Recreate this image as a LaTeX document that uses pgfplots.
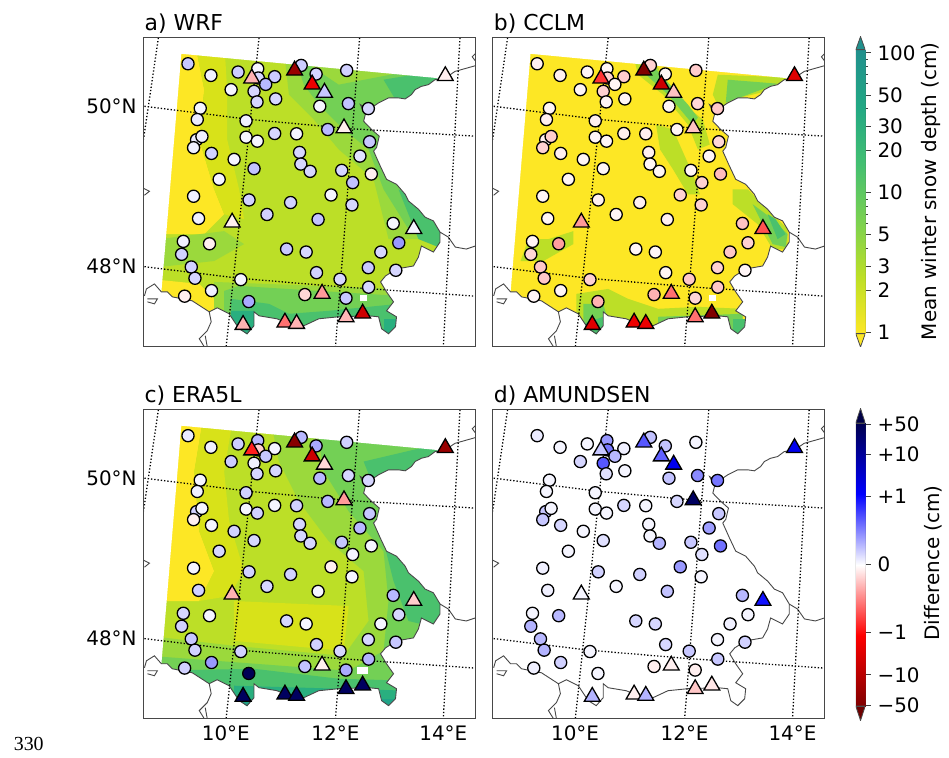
\documentclass[border=0pt]{standalone}
\usepackage{fontspec}
\setmainfont{DejaVu Sans}[Scale=2]
\newfontfamily\titlefont{DejaVu Sans}[Scale=2.2]
\newfontfamily\serifnum{Liberation Serif}[Scale=2]
\usepackage{pgfplots}
\usepackage{pgfplotstable}
\pgfplotsset{compat=1.18}
\pgfplotsset{
  colormap={snow}{rgb255=(253,231,37) rgb255=(189,223,38) rgb255=(122,209,81) rgb255=(67,191,113) rgb255=(34,168,132) rgb255=(33,144,141)},
  colormap={diff}{rgb255=(128,0,0) rgb255=(255,0,0) rgb255=(255,255,255) rgb255=(0,0,255) rgb255=(0,0,77)},
}
\definecolor{sYel}{HTML}{FDE725}
\definecolor{sYg}{HTML}{D8E219}
\definecolor{sLime}{HTML}{BCDF27}
\definecolor{sLg}{HTML}{9BD93C}
\definecolor{sGrn}{HTML}{73D055}
\definecolor{sGm}{HTML}{4AC16D}
\definecolor{sTeal}{HTML}{29AF7F}
\definecolor{sTd}{HTML}{20A387}
\pgfplotstableread{
x y a b c d
188.7 64.0 11 -3 4 4
211.7 75.7 3 -3 3 2
239.0 72.3 10 -2 10 2
258.7 69.0 2 -2 14 20
259.3 78.3 8 -9 -10 27
275.7 77.0 10 -10 2 3
266.7 84.7 14 -2 11 14
232.0 90.0 2 -2 10 8
255.0 91.7 8 -9 3 33
258.0 102.3 8 -2 8 6
276.7 99.3 8 -2 8 2
302.3 65.7 10 -9 14 12
317.3 74.3 8 -2 17 12
321.0 106.7 2 -2 14 12
348.0 70.7 9 -10 9 2
349.7 104.0 12 -8 8 23
369.7 109.0 8 -11 8 27
201.0 108.7 2 -2 2 2
198.0 120.0 4 -3 3 2
247.0 121.3 3 -3 9 2
329.0 130.0 14 -2 14 8
197.3 140.3 4 -3 9 11
202.7 137.0 3 -10 2 2
194.3 148.3 3 -9 -3 11
247.0 137.7 2 -2 2 2
258.3 141.7 2 -2 9 2
275.7 134.0 8 -3 2 8
297.7 134.3 2 -3 9 2
371.0 142.3 11 -8 11 11
212.3 154.0 9 -3 2 8
235.0 160.0 2 -2 9 2
300.7 153.0 8 -3 8 2
361.3 156.7 6 -2 14 19
255.0 169.3 12 -2 8 6
302.0 164.7 8 -2 8 2
311.3 172.0 8 -2 8 15
343.0 171.0 8 -2 11 11
372.7 174.7 -3 -13 2 28
220.0 180.0 2 -2 8 2
354.0 183.3 12 -9 2 6
194.3 197.0 3 -2 2 3
250.0 200.7 9 -3 9 9
291.7 203.3 9 -3 9 9
332.3 195.7 2 -9 -3 20
353.3 205.7 8 -9 2 2
268.0 215.3 9 -2 8 2
319.3 220.3 12 -3 2 12
199.3 219.3 3 -2 9 3
394.7 224.3 2 -12 14 14
184.0 242.3 3 -2 8 2
210.3 244.7 -3 -19 2 14
400.3 243.7 20 -9 8 2
182.3 255.3 9 -8 9 15
287.7 250.0 11 -2 8 8
307.3 253.0 8 -2 2 8
382.3 253.0 8 -11 2 3
192.0 268.0 9 -11 11 14
195.7 279.3 8 -11 9 15
369.7 268.7 11 -9 8 2
397.3 271.3 8 -2 11 9
317.7 273.7 9 -2 9 8
341.3 280.3 8 -11 8 11
241.7 280.7 2 -9 9 2
212.3 291.7 3 -2 20 9
185.3 297.3 -3 -2 9 3
370.0 288.3 8 -11 15 11
306.0 295.7 -8 -15 12 -3
347.3 299.3 11 -8 17 -3
249.7 302.7 17 -15 98 2
}\stationcircles
\pgfplotstableread{
x y a b c d
252.7 78.7 -15 -40 -44 11
295.7 70.7 -90 -100 -97 33
313.3 84.7 -57 -70 -70 31
325.7 93.0 11 -12 -8 55
447.0 76.3 -3 -63 -90 55
345.3 128.7 -3 -12 -20 95
233.0 223.3 -3 -20 -15 2
415.3 229.7 2 -34 -10 47
323.3 294.7 -20 -28 -3 -3
364.0 314.7 -70 -100 95 -5
347.3 318.3 -14 -28 95 -11
286.0 323.7 -28 -57 95 -3
297.7 325.0 -15 -57 95 15
244.0 326.0 -15 -63 95 15
}\stationtriangles
\pgfplotstableread{
x y
140 30
140 352
480 352
480 30
140 30
182 54
440 78.5
436.7 80
430 85
423 86.7
416.7 90
413 95
406.7 99.3
400 98.3
390 98.3
380 103.3
370 110
366.7 115
365 121.7
373 130
380.7 136.7
378 148
375 151.7
381.7 166.7
388 180
398 185
406.7 195
410 201.7
420 210
426.7 218
435 221.7
441.7 233
441.7 243
435 253
423 247
420 258
415 267
398 270
387 277
382 283
388 293
395 303
388 312
398 318
397 328
390 335
383 330
380 318
370 317
340 318
320 320
305 327
290 325
278 320
260 317
255 313
255 327
248 336
240 330
230 315
218 309
210 313
193 302
173 298
168 293
162 293
182 54
140 30
}\maskpts
\pgfplotstableread{
x y
477 66
456.7 71.7
447 78.3
436.7 80
430 85
423 86.7
416.7 90
413 95
406.7 99.3
400 98.3
390 98.3
380 103.3
370 110
361.7 105
366.7 115
365 121.7
373 130
380.7 136.7
378 148
375 151.7
381.7 166.7
388 180
398 185
406.7 195
410 201.7
420 210
426.7 218
435 221.7
441.7 233
441.7 243
435 253
423 247
420 258
415 267
398 270
387 277
382 283
388 293
395 303
388 312
398 318
397 328
390 335
383 330
380 318
370 317
340 318
320 320
305 327
290 325
278 320
260 317
255 313
255 327
248 335
240 330
230 315
218 309
210 313
193 302
173 298
168 293
162 293
155 285
147 290
145 297
nan nan
441.7 233
450 238
457 248
468 250
477 247
nan nan
210 313
212 323
208 332
200 340
205 348
nan nan
206 337
208 348
nan nan
148 300
158 300
155 305
148 303
nan nan
144 189
150 192
145 196
nan nan
477 54
474 57
477 61
}\borderlines
\pgfplotstableread{
x y
159 38
144 140
nan nan
260 38
227 348
nan nan
361 38
336.7 348
nan nan
461.7 38
445 348
nan nan
145 106.7
251.7 120
353.3 129.3
477 136.7
nan nan
145 267.7
240 279.3
340 287.7
477 297.3
}\graticule
\newcommand\layer[2]{\addplot[fill=#1, draw=none, forget plot] coordinates {#2};}
\newcommand\fielda{%
\layer{sLime}{(140,30)(480,30)(480,352)(140,352)}
\layer{sYel}{(150,40)(195,40)(205,90)(200,140)(215,190)(225,215)(205,235)(150,235)}
\layer{sYel}{(150,280)(200,285)(215,300)(215,320)(150,320)}
\layer{sYg}{(195,40)(225,40)(228,90)(228,140)(240,190)(245,220)(225,215)(215,190)(200,140)(205,90)}
\layer{sYg}{(335,60)(360,65)(345,85)(330,75)}
\layer{sLg}{(160,240)(225,232)(245,245)(215,262)(160,268)}
\layer{sLg}{(285,50)(470,50)(470,240)(390,240)(375,180)(340,150)(315,120)(290,95)}
\layer{sGrn}{(295,55)(340,85)(470,60)(470,230)(410,230)(385,190)(370,150)(345,130)(320,105)(305,85)}
\layer{sLg}{(215,283)(400,290)(400,340)(215,340)}
\layer{sGrn}{(225,292)(240,287)(400,297)(400,340)(225,340)}
\layer{sGm}{(385,80)(445,70)(445,90)(400,105)}
\layer{sGm}{(400,190)(445,215)(445,250)(420,240)}
\layer{sGm}{(232,300)(270,305)(290,315)(330,312)(370,308)(400,305)(400,340)(232,340)}
\layer{sTeal}{(232,312)(255,312)(262,340)(232,340)}
\layer{sTeal}{(385,320)(400,320)(400,340)(385,340)}
\layer{white}{(361,296)(368,296)(368,302)(361,302)}
}
\newcommand\fieldb{%
\layer{sYel}{(140,30)(480,30)(480,352)(140,352)}
\layer{sLime}{(285,55)(305,60)(330,100)(355,120)(362,145)(350,150)(340,125)(315,95)(290,75)}
\layer{sLime}{(370,75)(445,78)(425,90)(385,100)(372,110)(365,95)}
\layer{sLime}{(308,125)(325,130)(345,175)(352,195)(340,195)(325,170)(312,150)}
\layer{sLime}{(385,190)(400,190)(440,230)(440,250)(425,250)(410,225)(385,205)}
\layer{sLime}{(172,262)(180,240)(200,240)(225,232)(225,245)(195,262)}
\layer{sLime}{(228,295)(260,290)(280,300)(310,310)(350,308)(395,310)(395,340)(228,340)}
\layer{sGrn}{(292,60)(304,65)(340,105)(350,118)(345,125)(320,95)(298,75)}
\layer{sGrn}{(380,80)(430,84)(400,95)(378,103)}
\layer{sGrn}{(405,205)(425,220)(440,235)(438,248)(425,245)}
\layer{sGrn}{(235,305)(255,305)(262,330)(235,330)}
\layer{sGrn}{(310,318)(395,315)(395,340)(310,340)}
\layer{sGm}{(385,320)(400,320)(400,340)(385,340)}
\layer{sGm}{(420,215)(428,220)(438,235)(430,240)}
\layer{sGm}{(235,325)(255,318)(255,340)(235,340)}
\layer{white}{(361,296)(368,296)(368,302)(361,302)}
}
\newcommand\fieldc{%
\layer{sLime}{(140,30)(480,30)(480,352)(140,352)}
\layer{sYel}{(150,40)(205,40)(195,100)(200,160)(215,200)(200,230)(150,230)}
\layer{sYg}{(205,40)(235,40)(225,100)(230,150)(245,200)(230,225)(200,230)(215,200)(200,160)(195,100)}
\layer{sYg}{(235,230)(350,235)(345,280)(235,270)}
\layer{sLg}{(270,40)(480,40)(480,340)(150,340)(150,265)(235,275)(345,285)(370,250)(365,200)(330,170)(300,130)(280,90)}
\layer{sGrn}{(315,40)(480,40)(480,340)(150,340)(150,285)(350,300)(385,280)(390,230)(385,180)(350,140)(325,100)}
\layer{sGm}{(365,90)(450,70)(450,90)(400,110)(375,115)}
\layer{sGm}{(385,170)(450,210)(450,260)(410,250)(395,210)}
\layer{sGm}{(150,300)(255,298)(340,308)(480,312)(480,352)(150,352)}
\layer{sTeal}{(235,315)(480,322)(480,352)(235,352)}
\layer{sTd}{(235,328)(290,328)(290,352)(235,352)}
\layer{sTd}{(370,328)(480,328)(480,352)(370,352)}
\layer{white}{(358,296)(369,296)(369,303)(358,303)}
}
\newcommand\fieldnone{}
\newcommand\mappanel[5]{%
\begin{axis}[scale only axis, width=333pt, height=310.5pt, anchor=south west,
  xmin=144, xmax=477, ymin=37.5, ymax=348, y dir=reverse,
  at={(#1pt,#2pt)}, axis on top, unbounded coords=jump,
  axis line style={draw=black!72, line width=1.3pt},
  major tick length=0pt,
  colormap name=diff, point meta min=-100, point meta max=100,
  #5]
#4
\addplot[fill=white, draw=none] table[x=x,y=y] {\maskpts};
\addplot[draw=black!72, line width=0.9pt, no marks] table[x=x,y=y] {\borderlines};
\addplot[draw=black, line width=1.3pt, dotted, no marks] table[x=x,y=y] {\graticule};
\addplot[scatter, only marks, scatter src=explicit, mark=*, mark size=6.1pt,
  mark options={line width=1.3pt, solid},
  scatter/use mapped color={draw=black, fill=mapped color}]
  table[x=x, y=y, meta=#3] {\stationcircles};
\addplot[scatter, only marks, scatter src=explicit, mark=triangle*, mark size=9.2pt,
  mark options={line width=1.3pt, solid},
  scatter/use mapped color={draw=black, fill=mapped color}]
  table[x=x, y=y, meta=#3] {\stationtriangles};
\end{axis}}
\begin{document}
\begin{tikzpicture}
\path (0pt,0pt) rectangle (949pt,760pt);
\mappanel{144}{412}{a}{\fielda}{xtick=\empty, ytick={106.7,267.7}, yticklabels={{50\textdegree N},{48\textdegree N}}}
\mappanel{494.5}{412}{b}{\fieldb}{xtick=\empty, ytick=\empty}
\mappanel{144}{38.7}{c}{\fieldc}{xtick={226.7,336.7,445}, xticklabels={{10\textdegree E},{12\textdegree E},{14\textdegree E}}, ytick={106.7,267.7}, yticklabels={{50\textdegree N},{48\textdegree N}}}
\mappanel{494.5}{38.7}{d}{\fieldnone}{xtick={226.7,336.7,445}, xticklabels={{10\textdegree E},{12\textdegree E},{14\textdegree E}}, ytick=\empty}
\begin{axis}[scale only axis, width=9.5pt, height=311.6pt, anchor=south west, at={(859pt,411.7pt)},
  xmin=0, xmax=1, ymin=-0.102, ymax=2.116,
  axis line style={draw=none}, xtick=\empty, ytick pos=right, yticklabel pos=right,
  ytick={0,0.301,0.477,0.699,1,1.301,1.477,1.699,2}, yticklabels={1,2,3,5,10,20,30,50,100},
  minor ytick={0.602,0.778,0.845,0.903,0.954,1.602,1.778,1.845,1.903,1.954}, tick align=outside,
  major tick length=5.5pt, minor tick length=3pt,
  tick style={draw=black!75, line width=0.8pt},
  colormap name=snow, point meta min=0, point meta max=2]
\addplot[surf, shader=interp, mesh/cols=2, point meta=explicit] table[meta=c] {
x y c
0 -0.007 0
1 -0.007 0
0 2.021 2
1 2.021 2
};
\addplot[fill={rgb,255:red,253;green,231;blue,37}, draw=black!70, line width=0.8pt] coordinates {(0,-0.007) (0.5,-0.102) (1,-0.007) (0,-0.007)};
\addplot[fill={rgb,255:red,33;green,144;blue,141}, draw=black!70, line width=0.8pt] coordinates {(0,2.021) (0.5,2.116) (1,2.021) (0,2.021)};
\addplot[draw=black!70, line width=0.8pt] coordinates {(0,-0.007) (0,2.021) (1,2.021) (1,-0.007) (0,-0.007)};
\end{axis}
\begin{axis}[scale only axis, width=9.5pt, height=313.3pt, anchor=south west, at={(859pt,36.7pt)},
  xmin=0, xmax=1, ymin=-110.3, ymax=110.3,
  axis line style={draw=none}, xtick=\empty, ytick pos=right, yticklabel pos=right,
  ytick={-99.3,-78,-48,0,48,78,99.3},
  yticklabels={{\symbol{"2212}50},{\symbol{"2212}10},{\symbol{"2212}1},0,+1,+10,+50},
  tick align=outside, major tick length=5.5pt,
  tick style={draw=black!75, line width=0.8pt},
  colormap name=diff, point meta min=-100, point meta max=100]
\addplot[surf, shader=interp, mesh/cols=2, point meta=explicit] table[meta=c] {
x y c
0 -100 -100
1 -100 -100
0 0 0
1 0 0
0 100 100
1 100 100
};
\addplot[fill={rgb,255:red,110;green,0;blue,0}, draw=black!70, line width=0.8pt] coordinates {(0,-100) (0.5,-110.3) (1,-100) (0,-100)};
\addplot[fill={rgb,255:red,0;green,0;blue,70}, draw=black!70, line width=0.8pt] coordinates {(0,100) (0.5,110.3) (1,100) (0,100)};
\addplot[draw=black!70, line width=0.8pt] coordinates {(0,-100) (0,100) (1,100) (1,-100) (0,-100)};
\end{axis}
\node[anchor=base west, inner sep=0pt, font=\titlefont] at (145pt,729pt) {a) WRF};
\node[anchor=base west, inner sep=0pt, font=\titlefont] at (495.5pt,729pt) {b) CCLM};
\node[anchor=base west, inner sep=0pt, font=\titlefont] at (145pt,356pt) {c) ERA5L};
\node[anchor=base west, inner sep=0pt, font=\titlefont] at (495.5pt,356pt) {d) AMUNDSEN};
\node[rotate=90] at (934pt,568pt) {Mean winter snow depth (cm)};
\node[rotate=90] at (937pt,195pt) {Difference (cm)};
\node[anchor=west, font=\serifnum] at (7pt,13pt) {330};
\end{tikzpicture}
\end{document}
